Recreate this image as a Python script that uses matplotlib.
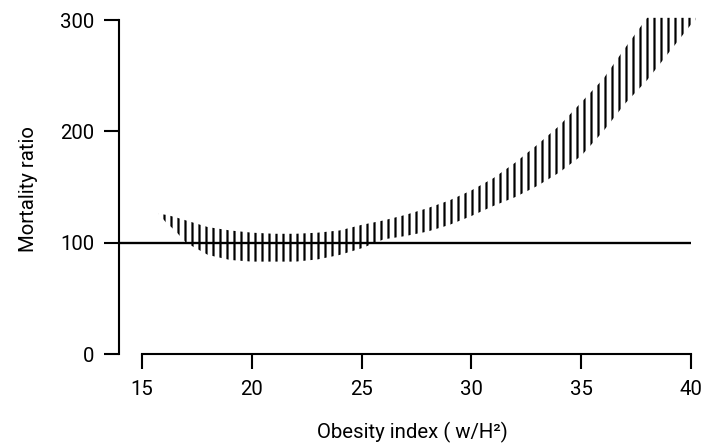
import matplotlib
matplotlib.use('Agg')
import matplotlib.pyplot as plt
import numpy as np

# band of mortality ratio vs obesity index
obesity = [15.75, 16.1, 16.5, 17.0, 18.0, 19.0, 20.0, 21.0, 22.0, 23.0, 24.0, 25.0,
           26.0, 27.0, 28.0, 29.0, 30.0, 31.0, 32.0, 33.0, 34.0, 35.0, 36.0, 37.0,
           38.0, 39.0, 40.0, 40.2]
upper = [126, 125, 123, 120, 114, 111, 109, 108, 108, 109, 111, 116,
         120, 125, 131, 138, 147, 158, 172, 188, 205, 226, 247, 275,
         302, 302, 302, 302]
lower = [126, 118, 111, 100, 89, 84.5, 83, 83, 83, 85, 89, 95,
         103, 106, 110, 116, 124, 133, 141, 151, 163, 178, 200, 225,
         246, 271, 296, 300]
ref_level = 100

x_ticks = [15, 20, 25, 30, 35, 40]
y_ticks = [0, 100, 200, 300]

DPI = 84
plt.rcParams['font.family'] = ['Roboto', 'DejaVu Sans']
plt.rcParams['hatch.linewidth'] = 1.9
plt.rcParams['hatch.color'] = 'black'

fig = plt.figure(figsize=(703 / DPI, 443 / DPI), dpi=DPI)
ax = fig.add_axes([0.1693, 0.2009, 0.823, 0.7689])

ax.fill_between(obesity, lower, upper, facecolor='none', edgecolor='black',
                linewidth=0, hatch='||')
ax.hlines(ref_level, 13.95, 40, color='black', linewidth=2.0)

ax.set_xlim(13.95, 40.3)
ax.set_ylim(0, 306)
ax.set_xticks(x_ticks)
ax.set_yticks(y_ticks)

for s in ['top', 'right']:
    ax.spines[s].set_visible(False)
ax.spines['left'].set_bounds(0, 300)
ax.spines['bottom'].set_bounds(15, 40)
ax.spines['left'].set_linewidth(1.8)
ax.spines['bottom'].set_linewidth(1.8)
ax.tick_params(length=13, width=1.8, labelsize=17.5, pad=8)
ax.tick_params(axis='x', pad=9)

ax.set_xlabel('Obesity index ( w/H²)', fontsize=17.5)
ax.set_ylabel('Mortality ratio', fontsize=17.5)
ax.xaxis.set_label_coords(0.507, -0.20)
ax.yaxis.set_label_coords(-0.14, 0.485)

fig.savefig('out.png', dpi=DPI)
